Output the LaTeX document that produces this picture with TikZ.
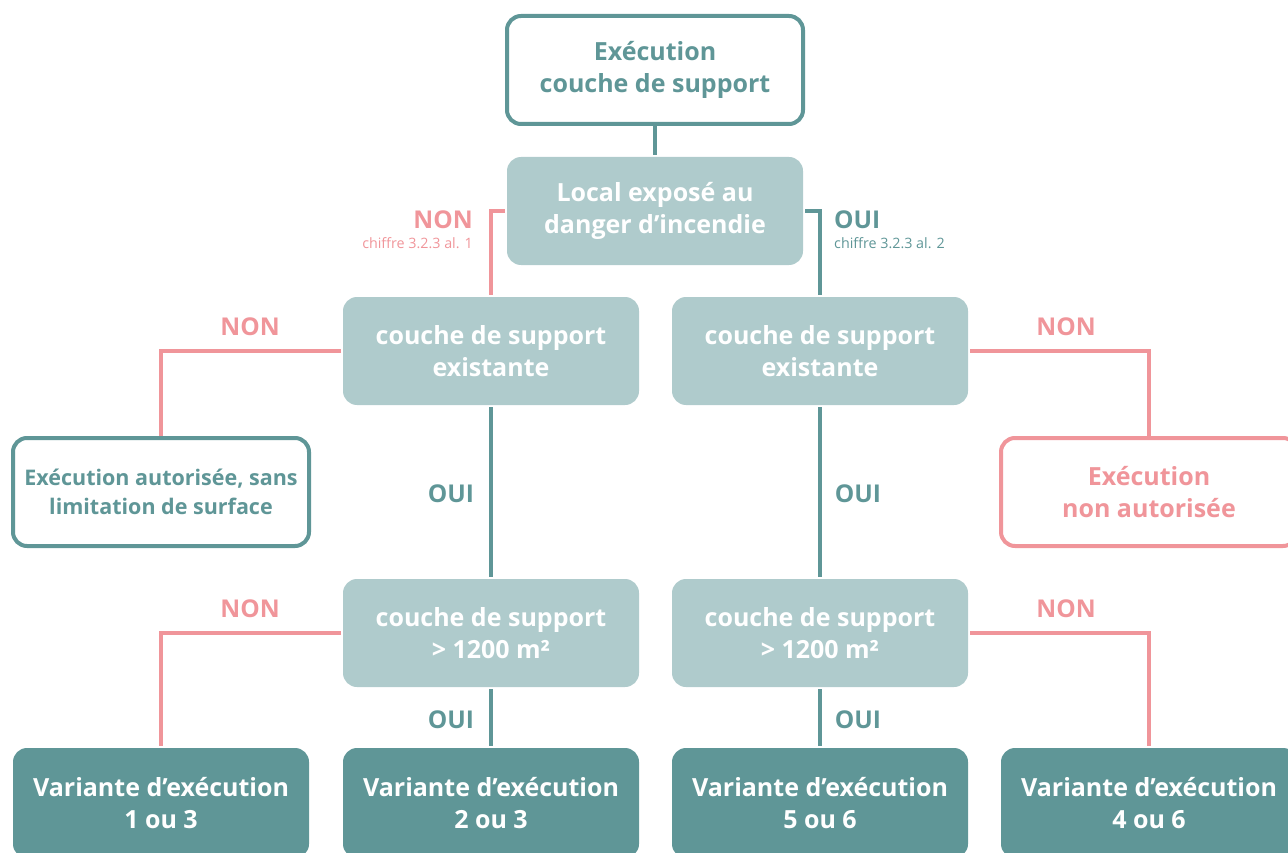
\documentclass[tikz,border=0pt]{standalone}
\usepackage{fontspec}
\setmainfont{Open Sans}
\definecolor{tealc}{HTML}{5F9697}
\definecolor{lightc}{HTML}{AFCBCC}
\definecolor{pinkc}{HTML}{F0959A}
\tikzset{
  box/.style={rounded corners=14pt, minimum width=296pt, minimum height=108pt,
    inner sep=0pt, align=center, line width=4pt,
    font=\bfseries\fontsize{25}{32}\selectfont},
  outline/.style={box, draw=tealc, fill=white, text=tealc},
  outlinered/.style={box, draw=pinkc, fill=white, text=pinkc},
  question/.style={box, fill=lightc, text=white},
  variant/.style={box, minimum height=110pt, fill=tealc, text=white},
  yes/.style={draw=tealc, line width=4pt},
  no/.style={draw=pinkc, line width=4pt},
  yestxt/.style={text=tealc, inner sep=0pt, font=\bfseries\fontsize{24.5}{28}\selectfont},
  notxt/.style={text=pinkc, inner sep=0pt, font=\bfseries\fontsize{24.5}{28}\selectfont},
  reftxt/.style={inner sep=0pt, font=\fontsize{14.3}{16}\selectfont}
}
\begin{document}
\begin{tikzpicture}[x=1pt, y=-1pt]
  \useasboundingbox (0,0) rectangle (1288,853);
  \clip (0,0) rectangle (1288,853);
  % boxes
  \node[outline] (start) at (655,70) {Exécution\\couche de support};
  \node[question] (local) at (655,211) {Local exposé au\\danger d’incendie};
  \node[question] (exl) at (491,351) {couche de support\\existante};
  \node[question] (exr) at (820,351) {couche de support\\existante};
  \node[outline, font=\bfseries\fontsize{21.5}{29}\selectfont] (free) at (161,492)
    {Exécution autorisée, sans\\limitation de surface};
  \node[outlinered] (forbid) at (1149,492) {Exécution\\non autorisée};
  \node[question] (surfl) at (491,633) {couche de support\\> 1200 m²};
  \node[question] (surfr) at (820,633) {couche de support\\> 1200 m²};
  \node[variant] (v13) at (161,803) {Variante d’exécution\\1 ou 3};
  \node[variant] (v23) at (491,803) {Variante d’exécution\\2 ou 3};
  \node[variant] (v56) at (820,803) {Variante d’exécution\\5 ou 6};
  \node[variant] (v46) at (1149,803) {Variante d’exécution\\4 ou 6};
  % connectors
  \draw[yes] (start) -- (local);
  \draw[no] (local.west) -| (exl.north);
  \draw[yes] (local.east) -| (exr.north);
  \draw[no] (exl.west) -| (free.north);
  \draw[no] (exr.east) -| (forbid.north);
  \draw[yes] (exl) -- (surfl);
  \draw[yes] (exr) -- (surfr);
  \draw[no] (surfl.west) -| (v13.north);
  \draw[yes] (surfl) -- (v23);
  \draw[yes] (surfr) -- (v56);
  \draw[no] (surfr.east) -| (v46.north);
  % labels
  \node[notxt, anchor=east] (n0) at (473,220) {NON};
  \node[reftxt, text=pinkc, anchor=east] (n0ref) at (473,243) {chiffre 3.2.3 al. 1};
  \node[yestxt, anchor=west] (y0) at (834,220) {OUI};
  \node[reftxt, text=tealc, anchor=west] (y0ref) at (834,243) {chiffre 3.2.3 al. 2};
  \node[notxt] (n1) at (250,327) {NON};
  \node[notxt] (n2) at (1066,327) {NON};
  \node[yestxt] (y1) at (451,494) {OUI};
  \node[yestxt] (y2) at (858,494) {OUI};
  \node[notxt] (n3) at (250,609) {NON};
  \node[notxt] (n4) at (1066,609) {NON};
  \node[yestxt] (y3) at (451,720) {OUI};
  \node[yestxt] (y4) at (858,720) {OUI};
\end{tikzpicture}
\end{document}
